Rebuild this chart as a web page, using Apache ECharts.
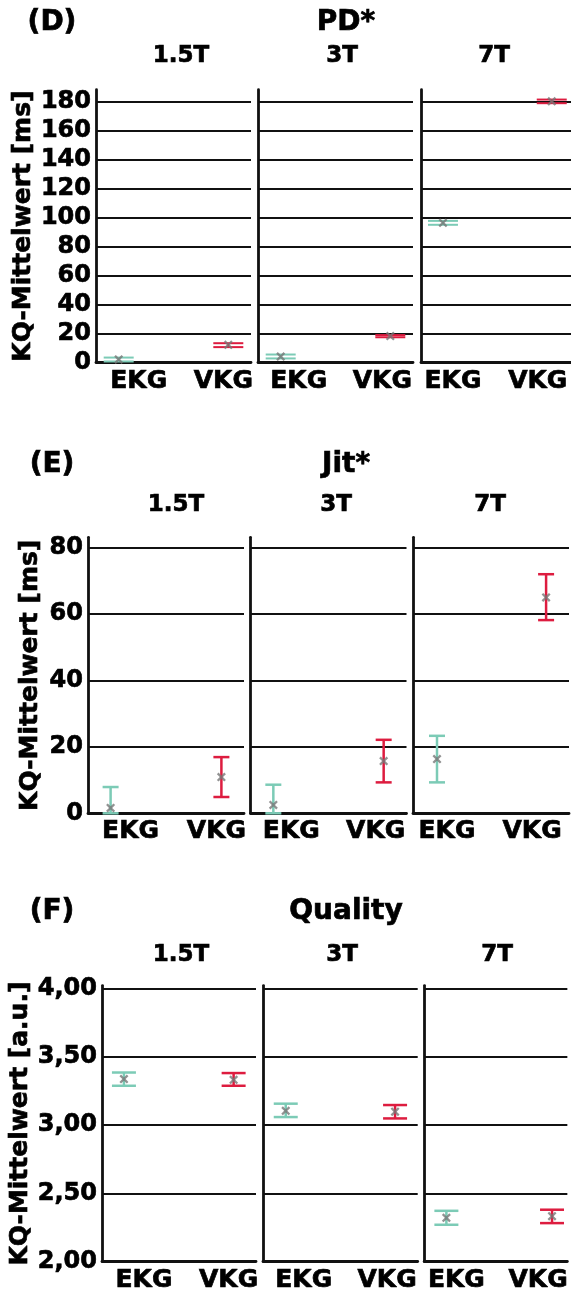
<!DOCTYPE html>
<html>
<head>
<meta charset="utf-8">
<script src="https://cdn.jsdelivr.net/npm/echarts@6/dist/echarts.min.js"></script>
<style>
  html, body { margin: 0; padding: 0; background: #fff; }
  #chart { width: 571px; height: 1293px; }
</style>
</head>
<body>
<div id="chart"></div>
<script>
// facets and groups
const facets = ['1.5T', '3T', '7T']
const groups = ['EKG', 'VKG']

// (D) PD*  [ms]
const pdEkgMean = [2.1, 4.1, 96.3]
const pdEkgLow = [0.7, 2.8, 94.9]
const pdEkgHigh = [3.4, 5.5, 97.6]
const pdVkgMean = [12.2, 18.2, 180.0]
const pdVkgLow = [10.6, 17.4, 178.7]
const pdVkgHigh = [13.3, 18.9, 181.2]

// (E) Jit*  [ms]
const jitEkgMean = [1.6, 2.5, 16.3]
const jitEkgLow = [0.0, 0.0, 9.3]
const jitEkgHigh = [7.9, 8.6, 23.3]
const jitVkgMean = [10.9, 15.7, 64.9]
const jitVkgLow = [4.9, 9.3, 58.1]
const jitVkgHigh = [16.9, 22.1, 71.9]

// (F) Quality  [a.u.]
const qEkgMean = [3.336, 3.104, 2.321]
const qEkgLow = [3.287, 3.058, 2.270]
const qEkgHigh = [3.384, 3.156, 2.372]
const qVkgMean = [3.331, 3.097, 2.333]
const qVkgLow = [3.287, 3.048, 2.282]
const qVkgHigh = [3.380, 3.146, 2.380]

const colEkg = '#7ccbb6'
const colVkg = '#dd1c3f'
const colMean = '#777777'
const ink = '#111'
const fam = '"DejaVu Sans", "Liberation Sans", sans-serif'
// a thin outline makes the bold text as heavy as in the figure
const heavy = { textBorderColor: '#000', textBorderWidth: 0.7 }

const panels = [
  {
    letter: '(D)', title: 'PD*', yName: 'KQ-Mittelwert [ms]',
    min: 0, max: 188, interval: 20, fmt: v => String(v),
    top: 89.7, height: 272.8, nameGap: 58,
    lefts: [96, 258, 421], widths: [155, 155, 150],
    xMin: [-0.207, -0.207, -0.202], xMax: [1.207, 1.207, 1.177],
    capW: 30, lw: 2,
    titleY: 23, facetY: 56.5, facetX: [181, 342, 494],
    ekg: [pdEkgMean, pdEkgLow, pdEkgHigh], vkg: [pdVkgMean, pdVkgLow, pdVkgHigh]
  },
  {
    letter: '(E)', title: 'Jit*', yName: 'KQ-Mittelwert [ms]',
    min: 0, max: 83, interval: 20, fmt: v => String(v),
    top: 537.3, height: 276, nameGap: 45,
    lefts: [88, 250.5, 413], widths: [156, 156, 156],
    xMin: [-0.204, -0.207, -0.22], xMax: [1.204, 1.207, 1.21],
    capW: 16, lw: 2.5,
    titleY: 465, facetY: 505, facetX: [176, 336, 490],
    ekg: [jitEkgMean, jitEkgLow, jitEkgHigh], vkg: [jitVkgMean, jitVkgLow, jitVkgHigh]
  },
  {
    letter: '(F)', title: 'Quality', yName: 'KQ-Mittelwert [a.u.]',
    min: 2, max: 4.02, interval: 0.5, fmt: v => v.toFixed(2).replace('.', ','),
    top: 985.6, height: 276.7, nameGap: 69,
    lefts: [102, 263, 424.2], widths: [154, 154.7, 146.8],
    xMin: [-0.2, -0.208, -0.21], xMax: [1.204, 1.207, 1.145],
    capW: 24, lw: 2.5,
    titleY: 912, facetY: 955, facetX: [181, 342, 497],
    ekg: [qEkgMean, qEkgLow, qEkgHigh], vkg: [qVkgMean, qVkgLow, qVkgHigh]
  }
]

// x label shifts per facet (EKG right, VKG left)
const shiftE = [20, 18, 10]
const shiftV = [5, 8, 14]

function errBar(color, capW, lw) {
  return function (params, api) {
    let x = api.value(0)
    let lo = api.coord([x, api.value(1)])
    let hi = api.coord([x, api.value(2)])
    let st = { stroke: color, lineWidth: lw }
    return {
      type: 'group',
      children: [
        { type: 'line', shape: { x1: lo[0], y1: lo[1], x2: hi[0], y2: hi[1] }, style: st },
        { type: 'line', shape: { x1: lo[0] - capW / 2, y1: lo[1], x2: lo[0] + capW / 2, y2: lo[1] }, style: st },
        { type: 'line', shape: { x1: hi[0] - capW / 2, y1: hi[1], x2: hi[0] + capW / 2, y2: hi[1] }, style: st }
      ]
    }
  }
}

const crossPath = 'path://M0,1.8L1.8,0L5,3.2L8.2,0L10,1.8L6.8,5L10,8.2L8.2,10L5,6.8L1.8,10L0,8.2L3.2,5Z'

let grids = [], xAxes = [], yAxes = [], series = [], graphics = []
let idx = 0

panels.forEach(p => {
  graphics.push({ type: 'text', x: 52, y: p.titleY,
    style: Object.assign({ text: p.letter, fill: '#000', fontFamily: fam, fontWeight: 'bold', fontSize: 28, align: 'center', verticalAlign: 'middle', stroke: '#000', lineWidth: 0.7 }) })
  graphics.push({ type: 'text', x: 346, y: p.titleY,
    style: { text: p.title, fill: '#000', fontFamily: fam, fontWeight: 'bold', fontSize: 28, align: 'center', verticalAlign: 'middle', stroke: '#000', lineWidth: 0.7 } })

  facets.forEach((f, i) => {
    graphics.push({ type: 'text', x: p.facetX[i], y: p.facetY,
      style: { text: f, fill: '#000', fontFamily: fam, fontWeight: 'bold', fontSize: 23, align: 'center', verticalAlign: 'middle', stroke: '#000', lineWidth: 0.7 } })

    grids.push({ left: p.lefts[i], width: p.widths[i], top: p.top, height: p.height })

    xAxes.push({
      type: 'value', gridIndex: idx, min: p.xMin[i], max: p.xMax[i],
      axisLine: { show: true, onZero: false, lineStyle: { color: ink, width: 2.8 } },
      axisTick: { show: false },
      splitLine: { show: false },
      axisLabel: {
        customValues: [0, 1],
        margin: 6,
        formatter: v => (v === 0 ? '{e|' + groups[0] + '}' : '{v|' + groups[1] + '}'),
        rich: {
          e: Object.assign({ fontFamily: fam, fontWeight: 'bold', fontSize: 25, color: '#000', padding: [0, 0, 0, shiftE[i] * 2] }, heavy),
          v: Object.assign({ fontFamily: fam, fontWeight: 'bold', fontSize: 25, color: '#000', padding: [0, shiftV[i] * 2, 0, 0] }, heavy)
        }
      }
    })

    yAxes.push({
      type: 'value', gridIndex: idx, min: p.min, max: p.max, interval: p.interval,
      name: i === 0 ? p.yName : '',
      nameLocation: 'middle', nameGap: p.nameGap,
      nameTextStyle: Object.assign({ fontFamily: fam, fontWeight: 'bold', fontSize: 25, color: '#000' }, heavy),
      axisLine: { show: true, onZero: false, lineStyle: { color: ink, width: 2.8 } },
      axisTick: { show: false },
      axisLabel: Object.assign({
        show: i === 0, margin: 5, showMaxLabel: false,
        formatter: p.fmt,
        fontFamily: fam, fontWeight: 'bold', fontSize: 24, color: '#000'
      }, heavy),
      splitLine: { show: true, showMinLine: false, showMaxLine: false, lineStyle: { color: ink, width: 2.2 } }
    })

    ;[[p.ekg, colEkg, 0], [p.vkg, colVkg, 1]].forEach(([d, col, gx]) => {
      series.push({
        type: 'custom', xAxisIndex: idx, yAxisIndex: idx,
        renderItem: errBar(col, p.capW, p.lw),
        encode: { x: 0, y: [1, 2] },
        data: [[gx, d[1][i], d[2][i]]],
        z: 3
      })
      series.push({
        type: 'scatter', xAxisIndex: idx, yAxisIndex: idx,
        symbol: crossPath, symbolSize: 9,
        itemStyle: { color: colMean },
        data: [[gx, d[0][i]]],
        z: 4
      })
    })
    idx++
  })
})

let chart = echarts.init(document.getElementById('chart'))
chart.setOption({
  animation: false,
  backgroundColor: '#fff',
  grid: grids,
  xAxis: xAxes,
  yAxis: yAxes,
  series: series,
  graphic: graphics
})
</script>
</body>
</html>
